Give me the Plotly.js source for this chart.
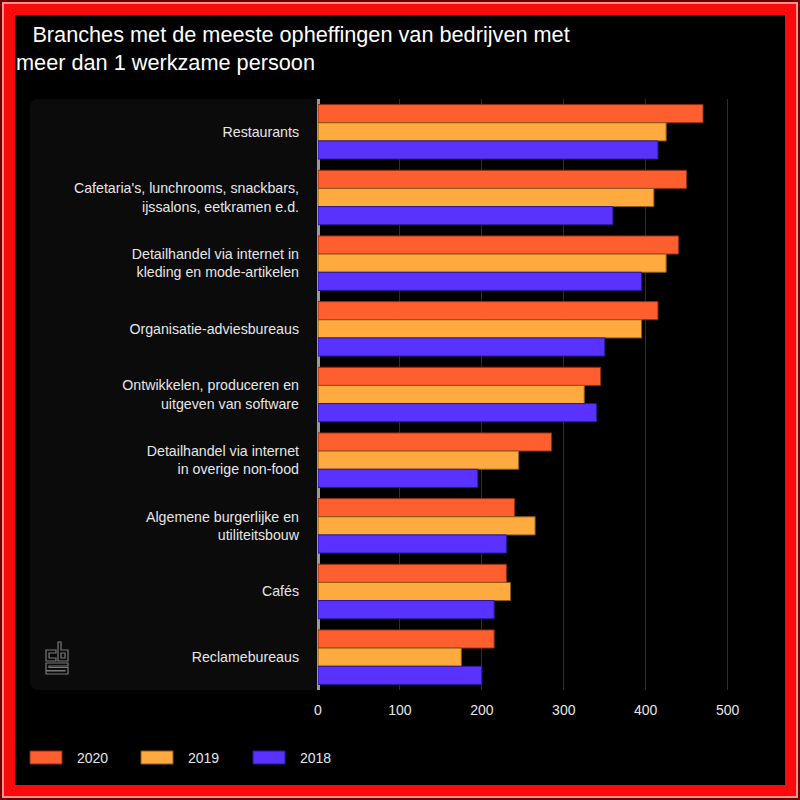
<!DOCTYPE html>
<html>
<head>
<meta charset="utf-8">
<script src="https://cdn.plot.ly/plotly-3.0.1.min.js"></script>
<style>
  html, body { margin:0; padding:0; background:#000; }
  #wrap { position:relative; width:800px; height:800px; }
  #chart { position:absolute; left:0; top:0; width:800px; height:800px; }
  .b1 { position:absolute; left:0; top:0; width:800px; height:800px; box-sizing:border-box; border:2px solid #6b0000; pointer-events:none; }
  .b2 { width:100%; height:100%; box-sizing:border-box; border:2px solid #ff8f8f; }
  .b3 { width:100%; height:100%; box-sizing:border-box; border:11px solid #fa0a0a; }
</style>
</head>
<body>
<div id="wrap">
  <div id="chart"></div>
  <div class="b1"><div class="b2"><div class="b3"></div></div></div>
</div>
<script>
const categories = [
  "Restaurants",
  "Cafetaria's, lunchrooms, snackbars,<br>ijssalons, eetkramen e.d.",
  "Detailhandel via internet in<br>kleding en mode-artikelen",
  "Organisatie-adviesbureaus",
  "Ontwikkelen, produceren en<br>uitgeven van software",
  "Detailhandel via internet<br>in overige non-food",
  "Algemene burgerlijke en<br>utiliteitsbouw",
  "Cafés",
  "Reclamebureaus"
];
const years = ["2020", "2019", "2018"];
const values2020 = [470, 450, 440, 415, 345, 285, 240, 230, 215];
const values2019 = [425, 410, 425, 395, 325, 245, 265, 235, 175];
const values2018 = [415, 360, 395, 350, 340, 195, 230, 215, 200];
const xTickValues = [0, 100, 200, 300, 400, 500];
const titleText = "\u200b\u00a0\u00a0\u2009Branches met de meeste opheffingen van bedrijven met<br>meer dan 1 werkzame persoon";

const seriesValues = [values2020, values2019, values2018];
const colors = ["#ff5f2e", "#ffaa3f", "#5a32ff"];
const lineColors = ["#8a2e12", "#8a5a1c", "#2a1890"];
const FONT = "Liberation Sans, Arial, sans-serif";

// plot geometry (pixels)
const W = 800, Hh = 800;
const M = {l: 318, r: 56, t: 99, b: 110};
const PW = W - M.l - M.r, PH = Hh - M.t - M.b;
const px = x => (x - M.l) / PW;
const py = y => (Hh - M.b - y) / PH;

const traces = years.map((yr, i) => ({
  type: "bar",
  orientation: "h",
  name: yr,
  y: categories,
  x: seriesValues[i],
  marker: {color: colors[i], line: {color: lineColors[i], width: 1}},
  showlegend: false,
  hoverinfo: "x+name"
}));

// rounded panel behind category labels
function roundedRectPath(x0, y0, x1, y1, r) {
  return "M" + px(x0 + r) + "," + py(y0) +
    " L" + px(x1) + "," + py(y0) +
    " L" + px(x1) + "," + py(y1) +
    " L" + px(x0 + r) + "," + py(y1) +
    " Q" + px(x0) + "," + py(y1) + " " + px(x0) + "," + py(y1 - r) +
    " L" + px(x0) + "," + py(y0 + r) +
    " Q" + px(x0) + "," + py(y0) + " " + px(x0 + r) + "," + py(y0) + " Z";
}
function polyPath(pts, ox, oy) {
  return pts.map((p, k) => (k ? "L" : "M") + px(ox + p[0]) + "," + py(oy + p[1])).join(" ") + " Z";
}

const shapes = [];
shapes.push({type: "path", xref: "paper", yref: "paper", layer: "below",
  path: roundedRectPath(30, 99, 317, 690, 9),
  fillcolor: "#0b0b0b", line: {width: 0}});

// cbs logo (outline)
const lx = 46, ly = 638;
const logoParts = [
  [[0,12],[10,12],[10,15],[3,15],[3,20],[10,20],[10,23],[0,23]],
  [[12,4],[15,4],[15,12],[22,12],[22,23],[12,23]],
  [[15,15],[19,15],[19,20],[15,20]],
  [[0,25],[22,25],[22,28],[3,28],[3,29.5],[22,29.5],[22,36],[0,36],[0,33],[19,33],[19,32.5],[0,32.5]]
];
logoParts.forEach(p => shapes.push({type: "path", xref: "paper", yref: "paper",
  path: polyPath(p, lx, ly), line: {color: "#7a7a7a", width: 1.2}, fillcolor: "rgba(0,0,0,0)"}));

// legend (custom wide swatches)
const legX = [30, 141, 253];
const annotations = [];
years.forEach((yr, i) => {
  shapes.push({type: "rect", xref: "paper", yref: "paper",
    x0: px(legX[i]), x1: px(legX[i] + 32), y0: py(764), y1: py(751),
    fillcolor: colors[i], line: {color: lineColors[i], width: 1}});
  annotations.push({xref: "paper", yref: "paper", x: px(legX[i] + 45), y: py(757.5),
    xanchor: "left", yanchor: "middle", showarrow: false, text: yr,
    font: {family: FONT, size: 14, color: "#e6e6e6"}});
});

const layout = {
  width: W, height: Hh,
  paper_bgcolor: "#000", plot_bgcolor: "#000",
  margin: M,
  font: {family: FONT, color: "#e6e6e6", size: 14},
  title: {text: titleText, x: 16 / W, xanchor: "left", xref: "container",
    y: 1 - 42 / Hh, yanchor: "top", yref: "container",
    font: {family: FONT, size: 21.7, color: "#ffffff"}},
  barmode: "group", bargap: 0.17, bargroupgap: 0,
  xaxis: {range: [0, 520], tickvals: xTickValues, showgrid: true, gridcolor: "#2e2e2e", gridwidth: 1,
    zeroline: true, zerolinecolor: "#9a9a9a", zerolinewidth: 3, showline: false, ticks: "",
    ticklabelstandoff: 10,
    tickfont: {size: 14, color: "#e6e6e6"}, fixedrange: true},
  yaxis: {autorange: "reversed", showgrid: false, zeroline: false, showline: false, ticks: "",
    ticklabelstandoff: 18, tickfont: {size: 14.2, color: "#e6e6e6"}, fixedrange: true},
  shapes: shapes,
  annotations: annotations,
  showlegend: false
};

Plotly.newPlot("chart", traces, layout, {displayModeBar: false, staticPlot: true});
</script>
</body>
</html>
